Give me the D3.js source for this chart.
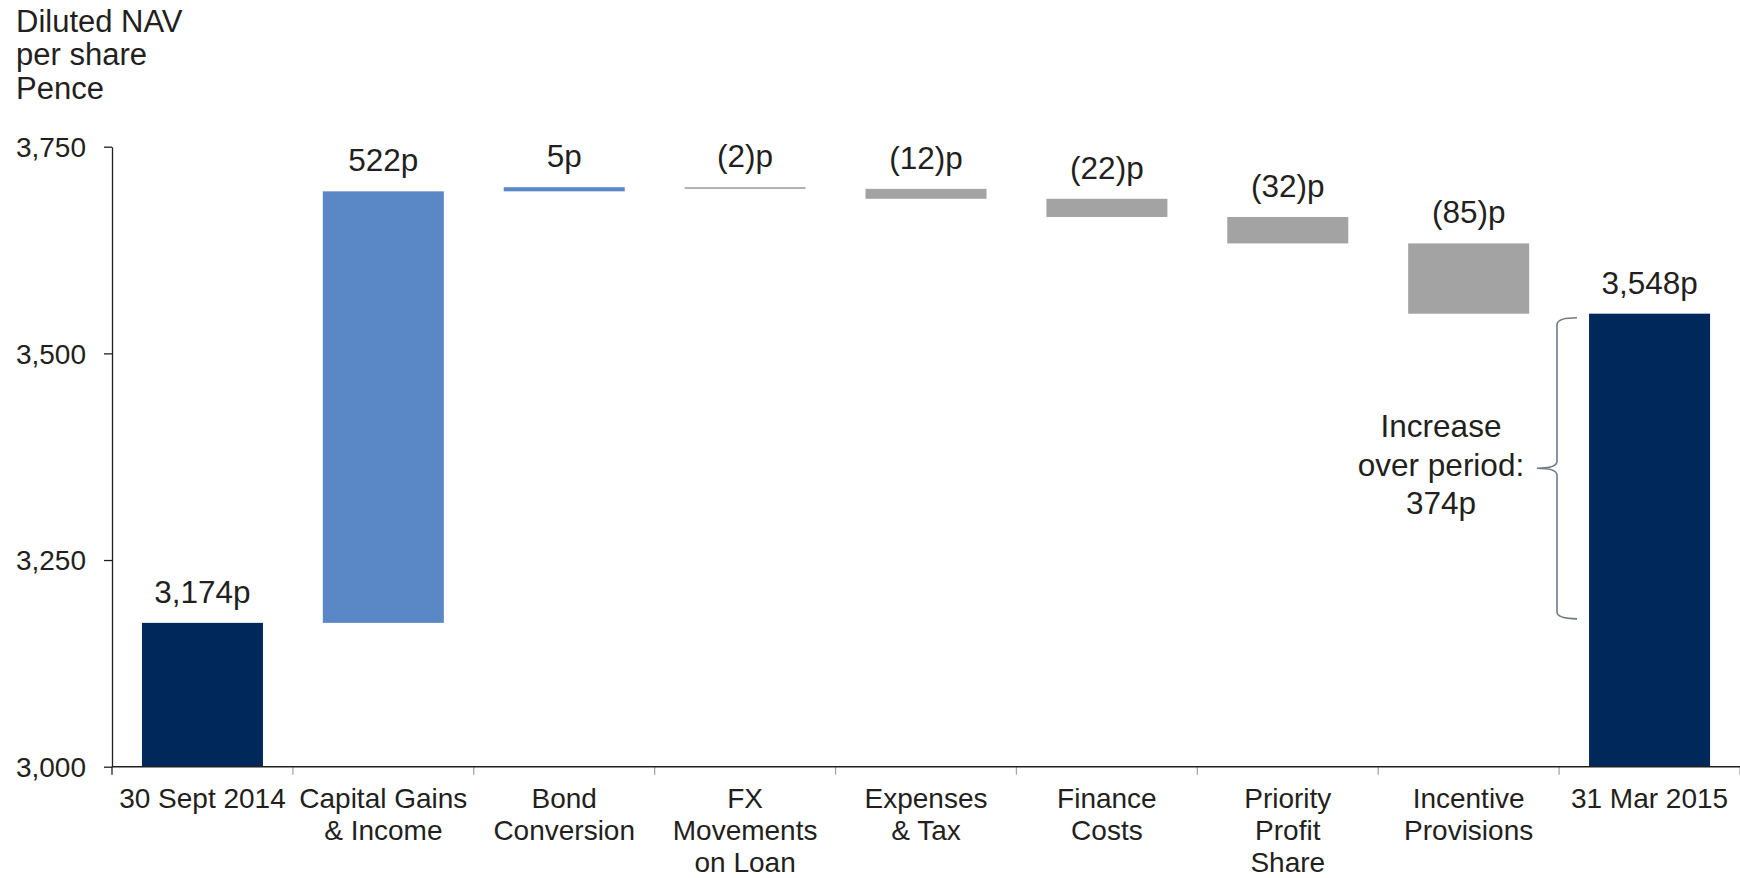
<!DOCTYPE html>
<html>
<head>
<meta charset="utf-8">
<script src="https://cdn.jsdelivr.net/npm/d3@7"></script>
<style>
  html, body { margin: 0; padding: 0; background: #ffffff; }
  svg { display: block; font-family: "Liberation Sans", Arial, Helvetica, sans-serif; }
</style>
</head>
<body>
<svg id="chart" width="1740" height="878"></svg>
<script>
// Diluted NAV per share bridge, 30 Sept 2014 to 31 Mar 2015 (pence)
const categories = [
  "30 Sept 2014", "Capital Gains & Income", "Bond Conversion", "FX Movements on Loan",
  "Expenses & Tax", "Finance Costs", "Priority Profit Share", "Incentive Provisions", "31 Mar 2015"
];
const categoryLines = [
  ["30 Sept 2014"], ["Capital Gains", "& Income"], ["Bond", "Conversion"], ["FX", "Movements", "on Loan"],
  ["Expenses", "& Tax"], ["Finance", "Costs"], ["Priority", "Profit", "Share"], ["Incentive", "Provisions"], ["31 Mar 2015"]
];
// "total" bars stand on the axis; the rest float from the running total
const kinds = ["total", "up", "up", "down", "down", "down", "down", "down", "total"];
const values = [3174, 522, 5, -2, -12, -22, -32, -85, 3548];
const yTicks = [3000, 3250, 3500, 3750];
const titleLines = ["Diluted NAV", "per share", "Pence"];

const colors = { total: "#00285a", up: "#5a87c5", down: "#a3a3a3" };
const textColor = "#231f20";

const svg = d3.select("#chart");
const x = d3.scaleBand().domain(categories).range([112, 1740]).paddingInner(0.331).paddingOuter(0.1655);
const y = d3.scaleLinear().domain([3000, 3750]).range([766.7, 146.7]);

// build floating segments
let running = 0;
const bars = categories.map((c, i) => {
  let lo, hi;
  if (kinds[i] === "total") { lo = 3000; hi = values[i]; running = values[i]; }
  else { const start = running; running += values[i]; lo = Math.min(start, running); hi = Math.max(start, running); }
  return { cat: c, kind: kinds[i], value: values[i], lo, hi };
});

function labelFor(d) {
  if (d.kind === "total") return d3.format(",")(d.value) + "p";
  return d.value < 0 ? "(" + (-d.value) + ")p" : d.value + "p";
}

// title
svg.append("text").attr("x", 16).attr("y", 31.5)
  .attr("font-size", 31).attr("fill", textColor)
  .selectAll("tspan").data(titleLines).join("tspan")
  .attr("x", 16).attr("dy", (d, i) => i === 0 ? 0 : 33.5).text(d => d);

// y axis
const yAxis = svg.append("g").attr("transform", "translate(112,0)")
  .call(d3.axisLeft(y).tickValues(yTicks).tickFormat(d3.format(",")).tickSize(8).tickSizeOuter(0));
yAxis.select(".domain").attr("stroke", "#231f20").attr("stroke-width", 1.3);
yAxis.selectAll(".tick line").attr("stroke", "#231f20").attr("stroke-width", 1.3);
yAxis.selectAll(".tick text").attr("font-size", 28).attr("fill", textColor)
  .attr("font-family", null).attr("x", -26).attr("dy", "0.35em");

// bars
svg.append("g").selectAll("rect").data(bars).join("rect")
  .attr("x", d => x(d.cat)).attr("width", x.bandwidth())
  .attr("y", d => y(d.hi)).attr("height", d => Math.max(1.5, y(d.lo) - y(d.hi)))
  .attr("fill", d => colors[d.kind]);

// value labels
svg.append("g").selectAll("text").data(bars).join("text")
  .attr("x", d => x(d.cat) + x.bandwidth() / 2).attr("y", d => y(d.hi) - 20)
  .attr("text-anchor", "middle").attr("font-size", 31.5).attr("fill", textColor)
  .text(labelFor);

// x axis line and band-boundary ticks
const y0 = y(3000);
const half = (x.step() - x.bandwidth()) / 2;
const bounds = categories.map(c => x(c) - half).concat([x(categories[categories.length - 1]) + x.bandwidth() + half]);
svg.append("g").selectAll("line").data(bounds.slice(1)).join("line")
  .attr("x1", d => d).attr("x2", d => d).attr("y1", y0).attr("y2", y0 + 8)
  .attr("stroke", "#a6a6a6").attr("stroke-width", 1.3);
svg.append("line").attr("x1", 112).attr("x2", 112).attr("y1", y0).attr("y2", y0 + 8)
  .attr("stroke", "#231f20").attr("stroke-width", 1.3);
svg.append("line").attr("x1", 112).attr("x2", 1740).attr("y1", y0).attr("y2", y0)
  .attr("stroke", "#231f20").attr("stroke-width", 1.5);

// category labels
const catG = svg.append("g").selectAll("text").data(categories).join("text")
  .attr("text-anchor", "middle").attr("font-size", 28).attr("fill", textColor)
  .attr("x", d => x(d) + x.bandwidth() / 2).attr("y", 808);
catG.selectAll("tspan").data((d, i) => categoryLines[i].map(t => ({ t, cx: x(d) + x.bandwidth() / 2 })))
  .join("tspan").attr("x", d => d.cx).attr("dy", (d, i) => i === 0 ? 0 : 32).text(d => d.t);

// bracket showing the increase over the period
const opening = values[0], closing = values[values.length - 1];
const yt = y(closing) + 4, yb = y(opening) - 4, ym = (yt + yb) / 2;
const xr = 1577, xv = 1557, xt = 1537;
const p = d3.path();
p.moveTo(xr, yt);
p.quadraticCurveTo(xv, yt, xv, yt + 7);
p.lineTo(xv, ym - 7);
p.quadraticCurveTo(xv, ym, xt, ym);
p.quadraticCurveTo(xv, ym, xv, ym + 7);
p.lineTo(xv, yb - 7);
p.quadraticCurveTo(xv, yb, xr, yb);
svg.append("path").attr("d", p.toString()).attr("fill", "none")
  .attr("stroke", "#6e7b85").attr("stroke-width", 1.6);

const noteLines = ["Increase", "over period:", (closing - opening) + "p"];
svg.append("text").attr("text-anchor", "middle").attr("font-size", 31.5).attr("fill", textColor)
  .attr("y", 437)
  .selectAll("tspan").data(noteLines).join("tspan")
  .attr("x", 1441).attr("dy", (d, i) => i === 0 ? 0 : 38.5).text(d => d);
</script>
</body>
</html>
